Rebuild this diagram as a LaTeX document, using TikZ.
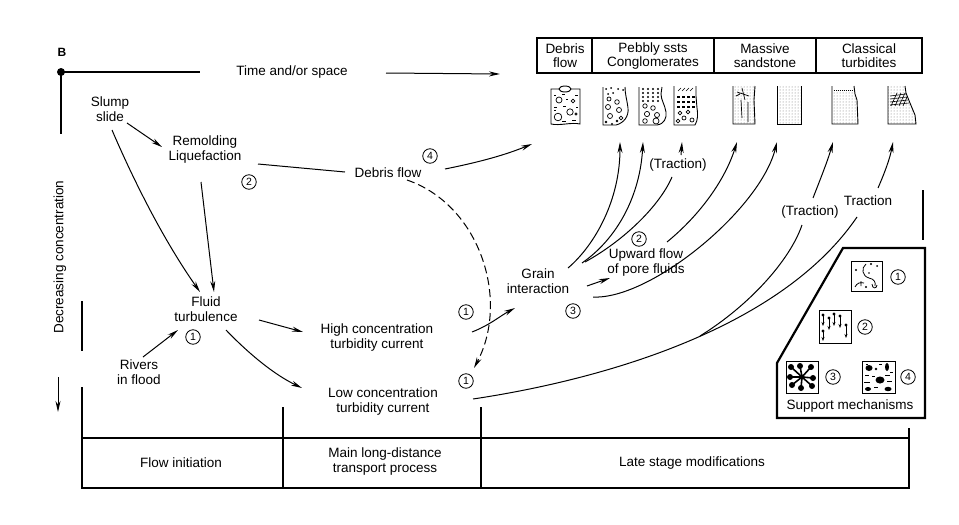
\documentclass[tikz,border=0pt]{standalone}
\usepackage{fontspec}
\setmainfont{Liberation Sans}
\usetikzlibrary{arrows.meta,patterns}
\begin{document}
\begin{tikzpicture}[x=1pt,y=-1pt,
 txt/.style={inner sep=0pt,align=center,font=\fontsize{13.5}{15}\selectfont},
 arr/.style={line width=1pt,-{Stealth[length=11pt,width=5pt]}},
 ln/.style={line width=1pt},
 thk/.style={line width=2.2pt},
 cnum/.style={circle,draw,line width=0.8pt,inner sep=0pt,minimum size=14.5pt,font=\fontsize{10.5}{11}\selectfont},
 col/.style={line width=0.9pt},
 stip/.style={pattern=dots,pattern color=black!55},
 dashcurve/.style={line width=1pt,dash pattern=on 8pt off 4pt}]
\useasboundingbox (0,0) rectangle (959,525);
\fill[white] (0,0) rectangle (959,525);

% axes
\node[inner sep=0pt,font=\fontsize{12}{12}\selectfont\bfseries] (B) at (62,52) {B};
\node[circle,fill,inner sep=0pt,minimum size=8pt] (orig) at (61,72) {};
\coordinate (axr) at (200,72);
\coordinate (axd) at (61,134);
\draw[thk] (orig.center) -- (axr);
\draw[thk] (orig.center) -- (axd);
\node[txt] (time) at (292,72) {Time and/or space};
\coordinate (ts) at (386,73);
\coordinate (te) at (500,74);
\draw[arr] (ts) -- (te);
\node[txt,rotate=90] (dec) at (60,257) {Decreasing concentration};
\coordinate (ds) at (58,377);
\coordinate (de) at (58,412);
\draw[arr] (ds) -- (de);

% left and right vertical marks
\draw[thk] (82,301) -- (82,351);
\draw[thk] (923,190) -- (923,240);

% bottom table
\draw[thk] (82,387) -- (82,488) -- (909,488) -- (909,428);
\draw[thk] (82,438) -- (909,438);
\draw[thk] (283,407) -- (283,488);
\draw[thk] (481,407) -- (481,488);
\node[txt] (t1) at (181,463) {Flow initiation};
\node[txt] (t2) at (385,462) {Main long-distance\\transport process};
\node[txt] (t3) at (692,463) {Late stage modifications};

% header boxes
\draw[thk] (537,38) rectangle (922,73);
\draw[thk] (592,38) -- (592,73);
\draw[thk] (714,38) -- (714,73);
\draw[thk] (816,38) -- (816,73);
\node[txt,font=\fontsize{13.5}{14}\selectfont] (h1) at (565,56) {Debris\\flow};
\node[txt,font=\fontsize{13.5}{14}\selectfont] (h2) at (653,56) {Pebbly ssts\\Conglomerates};
\node[txt,font=\fontsize{13.5}{14}\selectfont] (h3) at (765,56) {Massive\\sandstone};
\node[txt,font=\fontsize{13.5}{14}\selectfont] (h4) at (869,56) {Classical\\turbidites};

% ---- sediment columns ----
% col1 debris flow
\draw[col] (551,89) -- (551,124) .. controls (560,126) and (571,122) .. (580,124) -- (580,89) -- cycle;
\draw[col,fill=white] (565,89) ellipse (6 and 3);
\draw[line width=0.7pt] (559,100) circle (3) (573,101) circle (1.8) (570,112) circle (3.2) (558,117) circle (3.8) (576,114) circle (1.2);
\draw[line width=0.6pt] (554,95)--(556,95) (562,94)--(565,94) (575,95)--(578,95) (554,107)--(557,107) (563,106)--(566,106) (576,107)--(578,107) (562,121)--(566,121) (572,120)--(576,120) (554,110)--(556,110) (566,99)--(568,99);
% col2
\draw[col] (603,87) -- (603,125) -- (616,125) .. controls (624,123) and (629,116) .. (628,108) .. controls (627,100) and (625,94) .. (625,87);
\draw[line width=0.7pt] (609,99) circle (2) (617,102) circle (2.3) (608,107) circle (2.5) (619,110) circle (2.5) (610,116) circle (2.5) (621,118) circle (1.8);
\fill (606,89) circle (1) (611,88) circle (1) (618,89) circle (1) (623,90) circle (1) (613,93) circle (1) (608,94) circle (1) (606,122) circle (1.4) (612,124) circle (1.2) (617,121) circle (1.4);
% col3
\draw[col] (639,87) -- (639,125) -- (657,125) .. controls (664,124) and (667,118) .. (666,112) .. controls (665,105) and (661,100) .. (661,94) -- (662,87);
\foreach \yy in {89,93,97,101} {\foreach \xx in {643,648,653,658} {\fill (\xx,\yy) circle (1.1);}}
\draw[line width=0.7pt] (645,106) circle (2.2) (653,108) circle (2.3) (647,114) circle (2.6) (657,115) circle (2.5) (645,121) circle (2.3) (656,121) circle (3);
% col4
\draw[col] (674,86) -- (674,125) -- (695,125) .. controls (698,120) and (698,114) .. (697,108) -- (696,96) -- (696,86);
\draw[line width=0.6pt] (678,91)--(681,88) (682,91)--(685,88) (686,91)--(689,88) (690,91)--(693,88);
\foreach \yy in {96,101,106} {\foreach \xx in {677,682,687,692} {\fill (\xx,\yy) rectangle ++(3,1.8);}}
\draw[line width=0.7pt] (680,113) circle (1.8) (688,112) circle (1.8) (684,118) circle (2) (678,121) circle (1.8) (692,120) circle (2);
% col5
\fill[stip] (733,86) -- (733,124) -- (755,124) -- (754,100) -- (755,86) -- cycle;
\draw[col] (733,86) -- (733,124) -- (755,124) -- (754,100) -- (755,86);
\draw[line width=0.7pt] (741,100) -- (742,118) (748,102) -- (748,122) (737,92) -- (749,96) (742,88) -- (745,100) (736,96) -- (740,94);
% col6
\fill[stip] (777,86) rectangle (801,124);
\draw[col] (777,86) -- (777,124) -- (801,124) -- (801,86);
% col7
\fill[stip] (832,90) -- (832,124) -- (858,124) -- (857,100) -- (855,94) -- (854,90) -- cycle;
\draw[col] (832,86) -- (832,124) -- (858,124) -- (857,100) -- (855,94) -- (854,86);
\draw[line width=0.9pt,dash pattern=on 1pt off 1pt] (834,90) -- (853,90);
% col8
\fill[stip] (888,86) -- (888,124) -- (916,124) -- (915,115) -- (910,103) -- (906,93) -- (905,86) -- cycle;
\draw[col] (888,86) -- (888,124) -- (916,124) -- (915,115) -- (910,103) -- (906,93) -- (905,86);
\draw[line width=0.6pt] (890,96)--(906,94) (890,99)--(907,97) (890,102)--(908,100) (890,105)--(909,103)
  (891,106)--(897,93) (895,106)--(901,93) (899,106)--(905,93) (903,106)--(907,97);

% ---- flow nodes ----
\node[txt] (slump) at (110,109) {Slump\\slide};
\node[txt] (remold) at (205,150) {Remolding\\Liquefaction};
\node[txt] (debris) at (388,173) {Debris flow};
\node[txt] (fluid) at (206,309) {Fluid\\turbulence};
\node[txt] (rivers) at (139,372) {Rivers\\in flood};
\node[txt] (high) at (377,338) {High concentration\\turbidity current};
\node[txt] (low) at (383,402) {Low concentration\\turbidity current};
\node[txt] (grain) at (538,281) {Grain\\interaction};
\node[txt] (upward) at (646,263) {Upward flow\\of pore fluids};
\node[txt] (tr1) at (678,165) {(Traction)};
\node[txt] (tr2) at (810,212) {(Traction)};
\node[txt] (tr3) at (868,201) {Traction};

\node[cnum] (n2a) at (249,182) {2};
\node[cnum] (n4a) at (430,156) {4};
\node[cnum] (n1a) at (193,337) {1};
\node[cnum] (n1b) at (466,312) {1};
\node[cnum] (n1c) at (466,381) {1};
\node[cnum] (n3a) at (573,311) {3};
\node[cnum] (n2b) at (639,239) {2};

% connector coordinates
\coordinate (a1s) at (127,123); \coordinate (a1e) at (162,147);
\coordinate (a2s) at (112,130); \coordinate (a2e) at (200,292);
\coordinate (a3s) at (201,182); \coordinate (a3e) at (214,292);
\coordinate (a4s) at (143,357); \coordinate (a4e) at (178,330);
\coordinate (a5s) at (259,320); \coordinate (a5e) at (303,332);
\coordinate (a6s) at (226,330); \coordinate (a6e) at (302,388);
\coordinate (a7s) at (258,164); \coordinate (a7e) at (345,172);
\coordinate (a8s) at (445,169); \coordinate (a8e) at (532,144);
\coordinate (a9s) at (407,180); \coordinate (a9e) at (474,368);
\coordinate (a10s) at (472,332); \coordinate (a10e) at (515,308);
\coordinate (a11s) at (587,286); \coordinate (a11e) at (610,278);
\coordinate (c1s) at (568,268); \coordinate (k1) at (620,142);
\coordinate (c2s) at (582,263); \coordinate (k2) at (643,142);
\coordinate (c3s) at (585,262); \coordinate (c3m) at (672,177);
\coordinate (c3t) at (681,155); \coordinate (k3) at (682,142);
\coordinate (c4s) at (667,242); \coordinate (k4) at (737,142);
\coordinate (c5s) at (593,297); \coordinate (k5) at (777,142);
\coordinate (c6s) at (700,336); \coordinate (c6m) at (802,225);
\coordinate (c6t) at (813,198); \coordinate (k6) at (833,142);
\coordinate (c7s) at (473,399); \coordinate (c7m) at (857,217);
\coordinate (c7t) at (878,188); \coordinate (k7) at (893,142);

\draw[arr] (a1s) -- (a1e);
\draw[arr] (a2s) .. controls (130,172) and (160,235) .. (a2e);
\draw[arr] (a3s) -- (a3e);
\draw[arr] (a4s) -- (a4e);
\draw[arr] (a5s) -- (a5e);
\draw[arr] (a6s) .. controls (250,355) and (275,375) .. (a6e);
\draw[ln] (a7s) -- (a7e);
\draw[arr] (a8s) .. controls (480,162) and (505,155) .. (a8e);
\draw[dashcurve,-{Stealth[length=11pt,width=5pt]}] (a9s) .. controls (480,205) and (510,300) .. (a9e);
\draw[arr] (a10s) .. controls (490,325) and (500,316) .. (a10e);
\draw[arr] (a11s) -- (a11e);
\draw[arr] (c1s) .. controls (595,245) and (620,200) .. (k1);
\draw[arr] (c2s) .. controls (618,238) and (640,195) .. (k2);
\draw[ln] (c3s) .. controls (625,240) and (660,205) .. (c3m);
\draw[arr] (c3t) -- (k3);
\draw[arr] (c4s) .. controls (700,215) and (725,180) .. (k4);
\draw[arr] (c5s) .. controls (650,300) and (760,210) .. (k5);
\draw[ln] (c6s) .. controls (750,305) and (790,260) .. (c6m);
\draw[arr] (c6t) .. controls (820,180) and (828,160) .. (k6);
\draw[ln] (c7s) .. controls (600,380) and (780,330) .. (c7m);
\draw[arr] (c7t) .. controls (885,172) and (890,158) .. (k7);

% ---- support mechanisms ----
\draw[thk] (843,248) -- (925,248) -- (925,418) -- (777,418) -- (777,363) -- cycle;
\node[txt] (sup) at (850,406) {Support mechanisms};
% icon 1
\draw[line width=0.9pt] (851,261) rectangle (882,291);
\draw[line width=0.8pt] (866,264) .. controls (861,268) and (862,276) .. (869,278) .. controls (874,279) and (876,282) .. (875,286)
  (855,287) .. controls (857,283) and (860,282) .. (864,283) (861,281) -- (861,286)
  (872,284) .. controls (872,289) and (877,289) .. (877,285);
\fill (856,270) circle (1.1) (871,264) circle (1.2) (866,287) circle (1.1) (877,266) circle (1) (869,273) circle (0.8);
\node[cnum] (s1) at (898,277) {1};
% icon 2
\draw[line width=0.9pt] (819,310) rectangle (851,343);
\foreach \xx/\ya/\yb in {823/315/326,829/318/330,834/314/326,840/316/328,846/325/338,823/331/341}
  {\draw[line width=0.8pt,-{Stealth[length=4pt,width=3pt]}] (\xx,\ya) -- (\xx,\yb); \fill (\xx,\ya) circle (1.6);}
\node[cnum] (s2) at (865,327) {2};
% icon 3
\draw[line width=0.9pt] (786,361) rectangle (818,393);
\foreach \xx/\yy in {791/367,800/366,811/367,792/385,801/388,812/386,790/377,813/378}
  {\draw[line width=1.6pt] (802,377) -- (\xx,\yy); \fill (\xx,\yy) circle (3);}
\fill (802,377) circle (2.5);
\node[cnum] (s3) at (833,377) {3};
% icon 4
\draw[line width=0.9pt] (862,361) rectangle (895,393);
\fill (869,368) ellipse (3.5 and 3) (887,367) ellipse (2 and 4) (880,380) ellipse (4.5 and 3.5) (868,389) ellipse (3 and 2) (888,389) ellipse (3.5 and 2.2) (876,369) circle (1.4);
\draw[line width=0.6pt] (865,375)--(869,375) (872,376)--(875,376) (885,375)--(890,375) (864,382)--(870,382) (887,381)--(892,381) (874,387)--(878,387) (866,364)--(868,364) (879,364)--(882,364) (890,372)--(893,372);
\node[cnum] (s4) at (908,377) {4};
\end{tikzpicture}
\end{document}
